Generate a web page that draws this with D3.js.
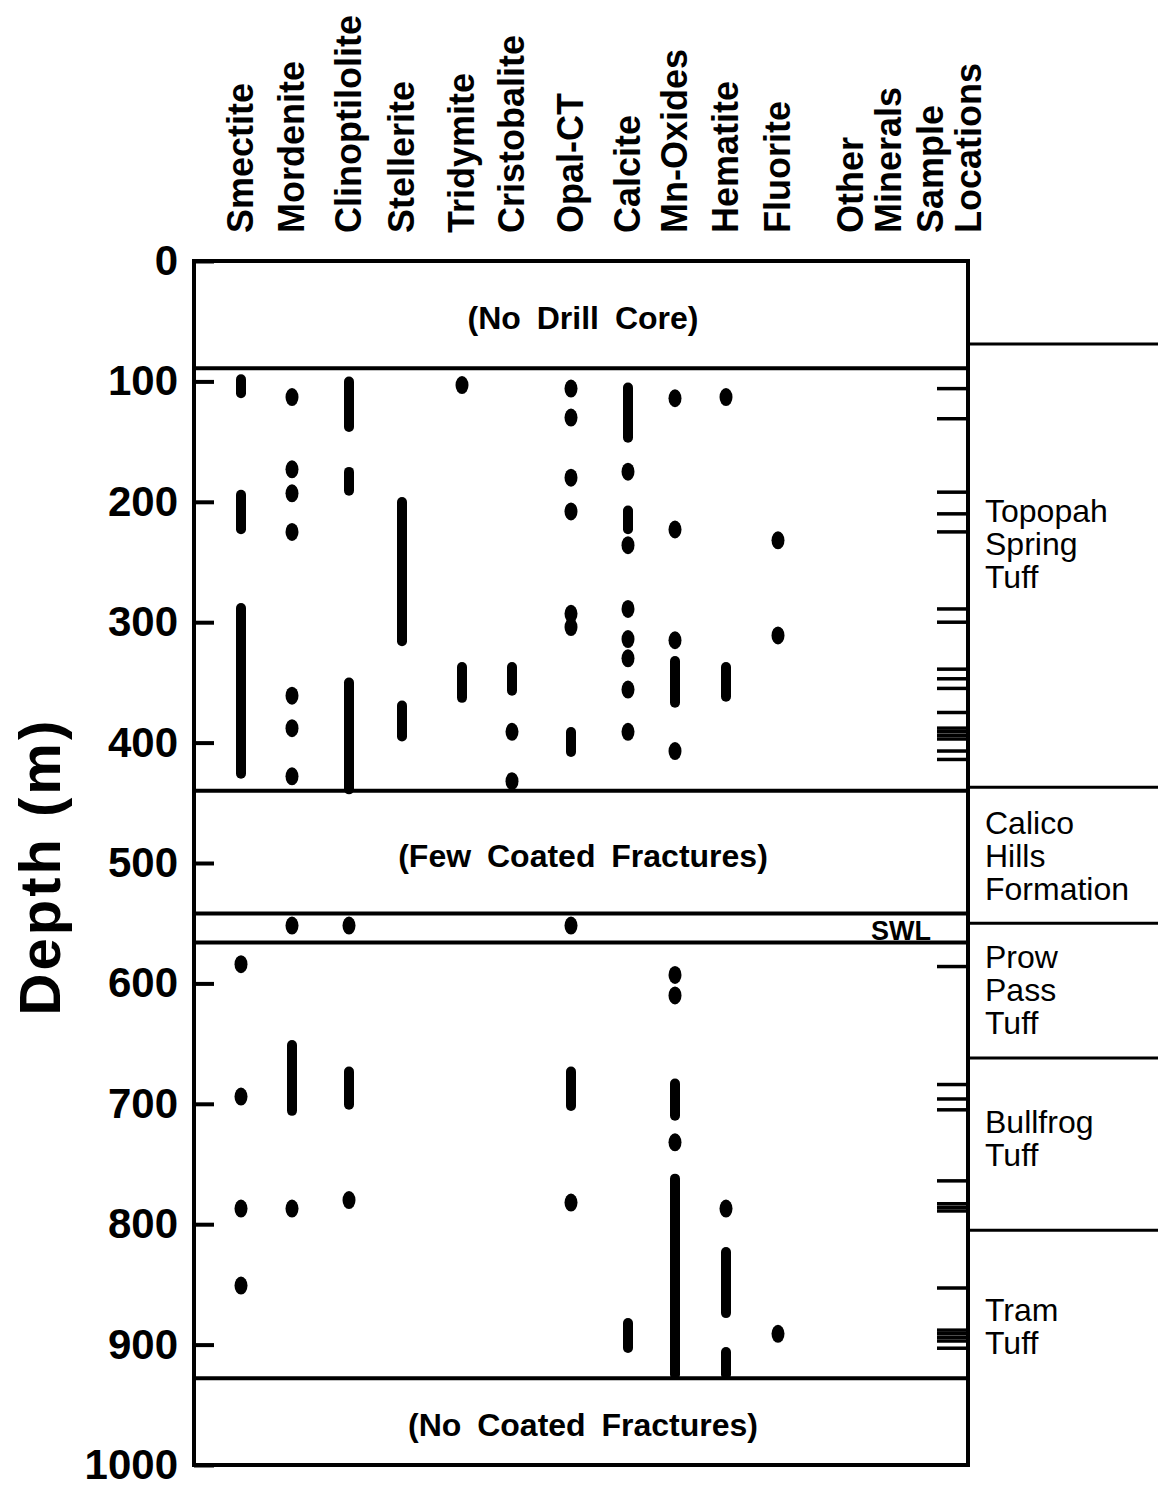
<!DOCTYPE html>
<html>
<head>
<meta charset="utf-8">
<script src="https://cdn.jsdelivr.net/npm/d3@7"></script>
<style>
body{margin:0;background:#fff}
svg{font-family:"Liberation Sans",Arial,Helvetica,sans-serif}
</style>
</head>
<body>
<svg id="main_svg" width="1158" height="1492"></svg>
<script>
// mineral columns, left to right
let minerals = ["Smectite","Mordenite","Clinoptilolite","Stellerite","Tridymite","Cristobalite","Opal-CT","Calcite","Mn-Oxides","Hematite","Fluorite"]
let extraColumns = ["Other Minerals","Sample Locations"]

// occurrences in m: a number is a single fracture (dot), a pair is a depth range (bar)
let smectite = [[94,114],[190,227],[284,430],584,694,787,851]
let mordenite = [113,173,193,225,361,388,428,552,[647,710],787]
let clinoptilolite = [[96,142],[171,195],[346,443],552,[669,705],780]
let stellerite = [[196,320],[365,399]]
let tridymite = [103,[333,367]]
let cristobalite = [[333,361],391,432]
let opalCT = [106,130,180,208,293,304,[387,412],552,[669,706],782]
let calcite = [[101,151],175,[203,227],236,289,314,330,356,391,[878,907]]
let mnOxides = [114,223,315,[328,371],407,593,610,[679,714],732,[758,929]]
let hematite = [113,[333,366],787,[819,878],[902,929]]
let fluorite = [232,311,891]
let occurrences = [smectite,mordenite,clinoptilolite,stellerite,tridymite,cristobalite,opalCT,calcite,mnOxides,hematite,fluorite]

// sample locations (m)
let samples = [106,131,192,210,225,289,300,339,347,355,375,388,391,394,397,407,414,
    586,684,696,705,764,783,786,789,853,888,891,894,897,903]

// core sections: horizontal divider depths and the notes in the empty bands
let bandLines = [89,440,542,566,928]
let bandLabels = ["(No Drill Core)","(Few Coated Fractures)","(No Coated Fractures)"]
let bandRanges = [[0,89],[440,542],[928,1000]]
let swlDepth = 566

// stratigraphic units on the right
let formationTops = [69,437,550,662,805]
let formationNames = [["Topopah","Spring","Tuff"],["Calico","Hills","Formation"],["Prow","Pass","Tuff"],["Bullfrog","Tuff"],["Tram","Tuff"]]
let formationLabelDepths = [217,476,587,724,880]

let depthTicks = [0,100,200,300,400,500,600,700,800,900,1000]

let svg = d3.select("#main_svg")
let left = 194, right = 968

let y = d3.scaleLinear().domain([0,1000]).range([261,1465])
let x = d3.scaleOrdinal()
    .domain(minerals.concat(extraColumns))
    .range([241,292,349,402,462,512,571,628,675,726,778,870,950])

// column headers, rotated
let headers = svg.append("g")
minerals.concat(extraColumns).forEach(function(name){
    let lines = name.split(" ")
    let t = headers.append("text")
        .attr("transform","translate(" + x(name) + ",233) rotate(-90)")
        .attr("font-size",36)
        .attr("font-weight","bold")
    lines.forEach(function(l,i){
        t.append("tspan")
            .attr("x",0)
            .attr("y",12 + (i - (lines.length-1)/2)*38)
            .text(l)
    })
})

// depth axis: ticks inward, labels outside
let axis = svg.append("g")
    .attr("transform","translate(" + left + ",0)")
    .call(d3.axisLeft(y).tickValues(depthTicks).tickFormat(d3.format("d"))
        .tickSizeInner(-20).tickSizeOuter(0).tickPadding(16))
axis.select(".domain").remove()
axis.selectAll(".tick line").attr("stroke","#000").attr("stroke-width",4)
axis.selectAll(".tick text")
    .attr("font-family","inherit")
    .attr("font-size",42)
    .attr("font-weight","bold")
    .attr("fill","#000")

svg.append("text")
    .attr("transform","translate(60," + y(503) + ") rotate(-90)")
    .attr("text-anchor","middle")
    .attr("font-size",58)
    .attr("font-weight","bold")
    .attr("letter-spacing",3)
    .text("Depth (m)")

// frame
svg.append("rect")
    .attr("x",left).attr("y",y(0))
    .attr("width",right-left).attr("height",y(1000)-y(0))
    .attr("fill","none").attr("stroke","#000").attr("stroke-width",4)

svg.append("g").selectAll("line")
    .data(bandLines)
    .join("line")
    .attr("x1",left).attr("x2",right)
    .attr("y1",d => y(d)).attr("y2",d => y(d))
    .attr("stroke","#000").attr("stroke-width",4)

svg.append("g").selectAll("text")
    .data(bandLabels)
    .join("text")
    .attr("x",(left+right)/2 + 2)
    .attr("y",(d,i) => y((bandRanges[i][0]+bandRanges[i][1])/2) + 3)
    .attr("dy","0.36em")
    .attr("text-anchor","middle")
    .attr("font-size",32)
    .attr("font-weight","bold")
    .attr("word-spacing",7)
    .text(d => d)

svg.append("text")
    .attr("x",931).attr("y",y(swlDepth) - 2)
    .attr("text-anchor","end")
    .attr("font-size",27)
    .attr("font-weight","bold")
    .text("SWL")

// mineral occurrences
let marks = svg.append("g")
minerals.forEach(function(name,i){
    let cx = x(name)
    let list = occurrences[i]
    marks.selectAll(null)
        .data(list.filter(d => Array.isArray(d)))
        .join("rect")
        .attr("x",cx-5).attr("width",10)
        .attr("y",d => y(d[0])).attr("height",d => y(d[1]) - y(d[0]))
        .attr("rx",5)
        .attr("fill","#000")
    marks.selectAll(null)
        .data(list.filter(d => !Array.isArray(d)))
        .join("ellipse")
        .attr("cx",cx).attr("cy",d => y(d))
        .attr("rx",6.5).attr("ry",9)
        .attr("fill","#000")
})

// sample locations
svg.append("g").selectAll("line")
    .data(samples)
    .join("line")
    .attr("x1",right-31).attr("x2",right)
    .attr("y1",d => y(d)).attr("y2",d => y(d))
    .attr("stroke","#000").attr("stroke-width",3.5)

// formations
svg.append("g").selectAll("line")
    .data(formationTops)
    .join("line")
    .attr("x1",right).attr("x2",1158)
    .attr("y1",d => y(d)).attr("y2",d => y(d))
    .attr("stroke","#000").attr("stroke-width",3)

let flabels = svg.append("g")
formationNames.forEach(function(lines,i){
    let t = flabels.append("text")
        .attr("font-size",32)
    lines.forEach(function(l,j){
        t.append("tspan")
            .attr("x",985)
            .attr("y",y(formationLabelDepths[i]) + j*33)
            .text(l)
    })
})
</script>
</body>
</html>
